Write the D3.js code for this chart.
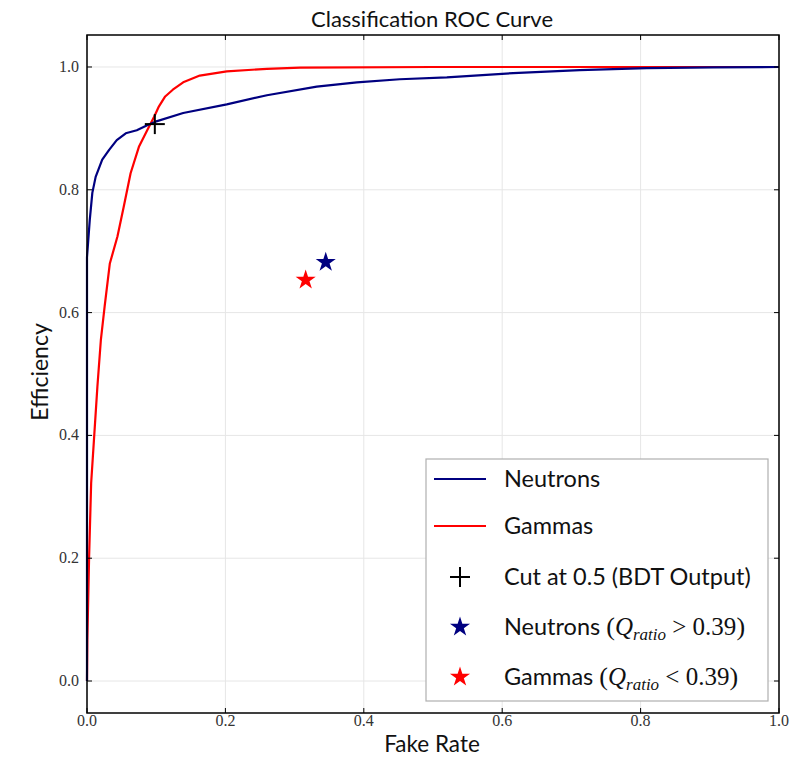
<!DOCTYPE html>
<html>
<head>
<meta charset="utf-8">
<script src="https://cdn.jsdelivr.net/npm/d3@7"></script>
<style>
  html, body { margin: 0; padding: 0; background: #fff; }
  svg { display: block; }
</style>
</head>
<body>
<svg id="chart" width="812" height="757"></svg>
<script>
// ---------- data ----------
const neutronFPR = [0, 0, 0.004, 0.0077, 0.0125, 0.022, 0.032, 0.043, 0.056, 0.072, 0.087, 0.099, 0.139, 0.202, 0.26, 0.332, 0.39, 0.452, 0.52, 0.616, 0.712, 0.809, 0.905, 1.0];
const neutronTPR = [0, 0.69, 0.751, 0.795, 0.821, 0.849, 0.865, 0.881, 0.892, 0.897, 0.905, 0.911, 0.925, 0.939, 0.954, 0.968, 0.975, 0.980, 0.983, 0.990, 0.995, 0.998, 0.9995, 1.0];
const gammaFPR = [0, 0.0005, 0.003, 0.006, 0.010, 0.015, 0.020, 0.0255, 0.033, 0.044, 0.053, 0.063, 0.075, 0.087, 0.097, 0.104, 0.113, 0.124, 0.139, 0.163, 0.202, 0.26, 0.308, 0.5, 1.0];
const gammaTPR = [0, 0.067, 0.2, 0.322, 0.392, 0.479, 0.555, 0.61, 0.68, 0.724, 0.772, 0.827, 0.870, 0.897, 0.919, 0.936, 0.952, 0.963, 0.975, 0.986, 0.993, 0.997, 0.999, 1.0, 1.0];
const cutPoint = [0.098, 0.907];
const neutronStar = [0.345, 0.682];
const gammaStar = [0.316, 0.653];
const xTicks = [0.0, 0.2, 0.4, 0.6, 0.8, 1.0];
const yTicks = [0.0, 0.2, 0.4, 0.6, 0.8, 1.0];
const legendLabels = ["Neutrons", "Gammas", "Cut at 0.5 (BDT Output)", "Neutrons", "Gammas"];
const legendMath = [null, null, null, ">", "<"];
const qThreshold = "0.39";

// ---------- layout ----------
const svg = d3.select("#chart");
const L = 87, R = 779, T = 35, B = 713;
const x = d3.scaleLinear().domain([0, 1]).range([L, R]);
const y = d3.scaleLinear().domain([-0.0521, 1.0521]).range([B, T]);
const navy = "#000080", red = "#ff0000";
const sans = "Lato, 'Open Sans', sans-serif";
const serif = "'Liberation Serif', 'DejaVu Serif', serif";

// grid
const g = svg.append("g");
g.selectAll(".gx").data(xTicks).enter().append("line")
  .attr("x1", d => x(d)).attr("x2", d => x(d)).attr("y1", T).attr("y2", B)
  .attr("stroke", "#e6e6e6").attr("stroke-width", 1);
g.selectAll(".gy").data(yTicks).enter().append("line")
  .attr("x1", L).attr("x2", R).attr("y1", d => y(d)).attr("y2", d => y(d))
  .attr("stroke", "#e6e6e6").attr("stroke-width", 1);

// curves
const line = d3.line().x(d => x(d[0])).y(d => y(d[1]));
const nData = neutronFPR.map((v, i) => [v, neutronTPR[i]]);
const gData = gammaFPR.map((v, i) => [v, gammaTPR[i]]);
svg.append("path").datum(gData).attr("d", line).attr("fill", "none")
  .attr("stroke", red).attr("stroke-width", 2.2).attr("stroke-linejoin", "round");
svg.append("path").datum(nData).attr("d", line).attr("fill", "none")
  .attr("stroke", navy).attr("stroke-width", 2.2).attr("stroke-linejoin", "round");

// markers
const star = d3.symbol().type(d3.symbolStar).size(125);
function drawPlus(sel, cx, cy, half) {
  sel.append("line").attr("x1", cx - half).attr("x2", cx + half).attr("y1", cy).attr("y2", cy)
    .attr("stroke", "#000").attr("stroke-width", 2);
  sel.append("line").attr("x1", cx).attr("x2", cx).attr("y1", cy - half).attr("y2", cy + half)
    .attr("stroke", "#000").attr("stroke-width", 2);
}
drawPlus(svg, x(cutPoint[0]), y(cutPoint[1]), 10);
svg.append("path").attr("d", star).attr("fill", red)
  .attr("transform", `translate(${x(gammaStar[0])},${y(gammaStar[1])})`);
svg.append("path").attr("d", star).attr("fill", navy)
  .attr("transform", `translate(${x(neutronStar[0])},${y(neutronStar[1])})`);

// frame
svg.append("rect").attr("x", L).attr("y", T).attr("width", R - L).attr("height", B - T)
  .attr("fill", "none").attr("stroke", "#000").attr("stroke-width", 1.5);

// ticks (inward, all sides)
const tl = 5;
xTicks.forEach(t => {
  svg.append("line").attr("x1", x(t)).attr("x2", x(t)).attr("y1", B).attr("y2", B - tl).attr("stroke", "#000");
  svg.append("line").attr("x1", x(t)).attr("x2", x(t)).attr("y1", T).attr("y2", T + tl).attr("stroke", "#000");
});
yTicks.forEach(t => {
  svg.append("line").attr("x1", L).attr("x2", L + tl).attr("y1", y(t)).attr("y2", y(t)).attr("stroke", "#000");
  svg.append("line").attr("x1", R).attr("x2", R - tl).attr("y1", y(t)).attr("y2", y(t)).attr("stroke", "#000");
});

// tick labels
svg.selectAll(".xl").data(xTicks).enter().append("text")
  .attr("x", d => x(d)).attr("y", B + 13).attr("text-anchor", "middle")
  .attr("font-family", serif).attr("font-size", 16).attr("fill", "#333")
  .text(d => d3.format(".1f")(d));
svg.selectAll(".yl").data(yTicks).enter().append("text")
  .attr("x", L - 8).attr("y", d => y(d) + 5).attr("text-anchor", "end")
  .attr("font-family", serif).attr("font-size", 16).attr("fill", "#333")
  .text(d => d3.format(".1f")(d));

// title and axis labels
svg.append("text").attr("x", 432).attr("y", 27).attr("text-anchor", "middle")
  .attr("font-family", sans).attr("font-size", 22).attr("fill", "#111").text("Classification ROC Curve");
svg.append("text").attr("x", 432).attr("y", 752).attr("text-anchor", "middle")
  .attr("font-family", sans).attr("font-size", 22.5).attr("fill", "#111").text("Fake Rate");
svg.append("text").attr("transform", `translate(48,${372}) rotate(-90)`).attr("text-anchor", "middle")
  .attr("font-family", sans).attr("font-size", 23).attr("fill", "#111").text("Efficiency");

// legend
const lg = svg.append("g");
lg.append("rect").attr("x", 426).attr("y", 459).attr("width", 342).attr("height", 242)
  .attr("fill", "#fff").attr("stroke", "#b0b0b0").attr("stroke-width", 1.2);
const rows = [479, 526, 577, 627, 677];
const hx0 = 434, hx1 = 486, hc = 460, tx = 504;
lg.append("line").attr("x1", hx0).attr("x2", hx1).attr("y1", rows[0]).attr("y2", rows[0]).attr("stroke", navy).attr("stroke-width", 2);
lg.append("line").attr("x1", hx0).attr("x2", hx1).attr("y1", rows[1]).attr("y2", rows[1]).attr("stroke", red).attr("stroke-width", 2);
drawPlus(lg, hc, rows[2], 10);
lg.append("path").attr("d", star).attr("fill", navy).attr("transform", `translate(${hc},${rows[3]})`);
lg.append("path").attr("d", star).attr("fill", red).attr("transform", `translate(${hc},${rows[4]})`);
legendLabels.forEach((lab, i) => {
  const t = lg.append("text").attr("x", tx).attr("y", rows[i] + 8)
    .attr("font-family", sans).attr("font-size", 23.5).attr("fill", "#111");
  if (legendMath[i] === null) {
    t.text(lab);
  } else {
    t.append("tspan").text(lab + " ");
    t.append("tspan").attr("font-family", serif).attr("font-size", 26).text("(");
    t.append("tspan").attr("font-family", serif).attr("font-style", "italic").attr("font-size", 25).text("Q");
    t.append("tspan").attr("font-family", serif).attr("font-style", "italic").attr("font-size", 17).attr("dy", 5).text("ratio");
    t.append("tspan").attr("font-family", serif).attr("font-size", 25).attr("dy", -5).text(" " + legendMath[i] + " " + qThreshold);
    t.append("tspan").attr("font-family", serif).attr("font-size", 26).text(")");
  }
});
</script>
</body>
</html>
